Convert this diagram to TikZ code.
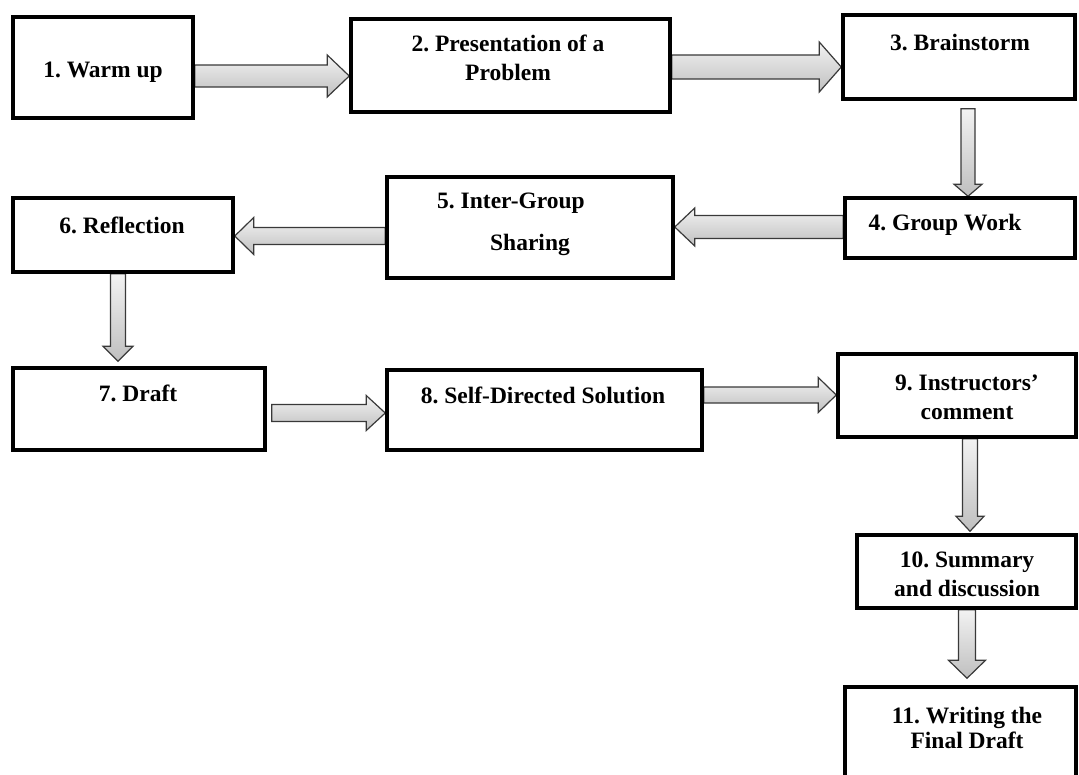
\documentclass[tikz,border=0pt]{standalone}
\usepackage{fontspec}
\setmainfont{Liberation Serif}
\frenchspacing
\usetikzlibrary{calc,backgrounds}
\tikzset{
  box/.style={draw, line width=3.5pt, fill=white, inner sep=0pt},
  lbl/.style={font=\fontsize{23.5}{29}\selectfont\bfseries, align=center, inner sep=0pt},
  fat/.style={draw=gray!45!black, line width=1.2pt, top color=gray!10, bottom color=gray!50},
}
\newcommand{\fatarrow}[5]{%
  \coordinate (fa-s) at #1;
  \coordinate (fa-e) at #2;
  \coordinate (fa-h) at ($(fa-e)!#5pt!(fa-s)$);
  \draw[fat] ($(fa-s)!#3pt!90:(fa-e)$) -- ($(fa-h)!#3pt!90:(fa-e)$)
    -- ($(fa-h)!#4pt!90:(fa-e)$) -- (fa-e)
    -- ($(fa-h)!#4pt!-90:(fa-e)$) -- ($(fa-h)!#3pt!-90:(fa-e)$)
    -- ($(fa-s)!#3pt!-90:(fa-e)$) -- cycle;}

\begin{document}
\begin{tikzpicture}[x=1pt, y=-1pt]
    \useasboundingbox (0,0) rectangle (1079,774);
    \clip (0,0) rectangle (1079,774);
    \foreach \n/\x/\y/\w/\h in {1/103/67.5/180/101, 2/510.5/65.5/319/93, 3/959/57/232/84,
        4/960/228/230/60, 5/530/227.5/286/101, 6/123/235/220/74, 7/139/409/252/82,
        8/544.5/410/315/80, 9/957/395.5/238/83, 10/966.5/571.5/219/73, 11/960.5/748.5/231/123}
        \node[box, minimum width=\w pt, minimum height=\h pt] (b\n) at (\x,\y) {};
    \node[lbl] (t1) at (103,72) {1. Warm up};
    \node[lbl] (t2) at (508,57.5) {2. Presentation of a\\Problem};
    \node[lbl] (t3) at (960,43) {3. Brainstorm};
    \node[lbl] (t4) at (945,225) {4. Group Work};
    \node[lbl] (t5) at (511,224) {5. Inter-Group\\[13pt]\hspace*{38pt}Sharing};
    \node[lbl] (t6) at (122,225) {6. Reflection};
    \node[lbl] (t7) at (138,393) {7. Draft};
    \node[lbl] (t8) at (543,395) {8. Self-Directed Solution};
    \node[lbl] (t9) at (967,397.5) {9. Instructors'\\comment};
    \node[lbl] (t10) at (967,574) {10. Summary\\and discussion};
    \node[lbl] (t11) at (967,727.5) {11. Writing the\\[-4pt]Final Draft};
    \begin{pgfonlayer}{background}
        \fatarrow{(b1.east |- 0,76)}{(b2.west |- 0,76)}{11}{21}{22}
        \fatarrow{(b2.east |- 0,67)}{(b3.west |- 0,67)}{12}{25}{22}
        \fatarrow{($(b3.south -| 968,0)+(0,8)$)}{(b4.north -| 968,0)}{7}{14}{12}
        \fatarrow{(b4.west |- 0,227)}{(b5.east |- 0,227)}{11.5}{19}{20}
        \fatarrow{(b5.west |- 0,236)}{(b6.east |- 0,236)}{8.5}{18.5}{19}
        \fatarrow{(b6.south -| 118,0)}{($(b7.north -| 118,0)+(0,-5)$)}{7.5}{15}{15}
        \fatarrow{($(b7.east |- 0,413)+(5,0)$)}{(b8.west |- 0,413)}{8.5}{17.5}{19}
        \fatarrow{(b8.east |- 0,395)}{(b9.west |- 0,395)}{8}{17.5}{18}
        \fatarrow{(b9.south -| 970,0)}{($(b10.north -| 970,0)+(0,-2)$)}{7.5}{14}{15}
        \fatarrow{(b10.south -| 967,0)}{($(b11.north -| 967,0)+(0,-7)$)}{8.5}{18.5}{18}
    \end{pgfonlayer}
\end{tikzpicture}
\end{document}
